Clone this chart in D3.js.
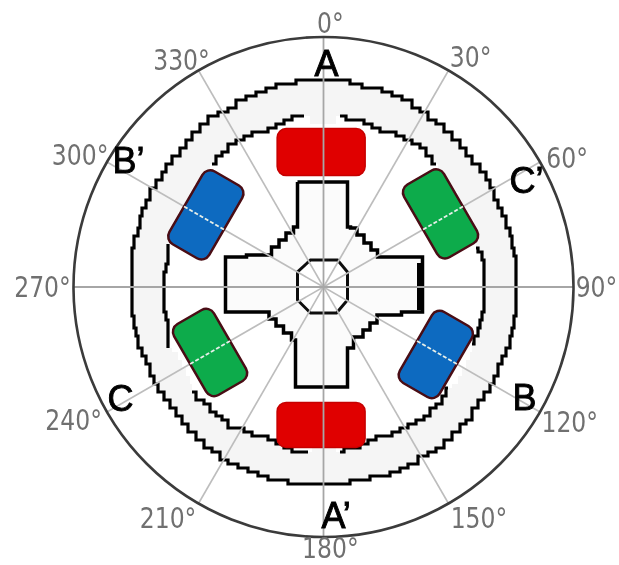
<!DOCTYPE html>
<html>
<head>
<meta charset="utf-8">
<script src="https://cdnjs.cloudflare.com/ajax/libs/d3/7.8.5/d3.min.js"></script>
<style>
  html, body { margin: 0; padding: 0; background: #fff; }
  svg { display: block; }
</style>
</head>
<body>
<div id="chart"></div>
<script>
// polar grid
const gridAngles = [0, 30, 60, 90, 120, 150, 180, 210, 240, 270, 300, 330];
const gridLabels = ['0°', '30°', '60°', '90°', '120°', '150°', '180°', '210°', '240°', '270°', '300°', '330°'];
const labelAngles = [1.5, 32.6, 62, 90, 118.8, 146, 178.5, 214, 242, 270, 298.5, 328];
const labelRadii = [264, 273, 276, 273, 281, 278, 261.5, 278, 283, 281, 277, 268];

// stator outlines, radius read every 3 degrees (null = hidden behind a pole)
const ringAngles = d3.range(0, 360, 3);
const statorOuter = [207, 207, 207, 206, 205, 205, 204, 204, 203, 202, 201, 200, 200, 199, 198,
  198, 197, 197, 196, 196, 196, 195, 195, 194, 194, 194, 194, 194, 194, 194,
  194, 194, 194, 194, 194, 194, 194, 194, 194, 194, 194, 195, 195, 195, 196,
  196, 196, 196, 197, 197, 197, 197, 197, 197, 197, 197, 197, 197, 197, 197,
  197, 197, 197, 198, 198, 198, 199, 199, 199, 199, 199, 198, 198, 197, 197,
  196, 195, 195, 194, 194, 193, 193, 193, 193, 193, 193, 193, 193, 193, 193,
  193, 193, 193, 194, 194, 194, 195, 195, 195, 196, 196, 197, 197, 198, 198,
  199, 200, 200, 201, 202, 202, 203, 204, 204, 205, 205, 206, 206, 207, 207];
const statorInner = [null, null, 171, 170, 169, 169, 168, 168, 168, 170, 171, 171, 170, 169, 168,
  null, null, null, null, null, null, null, null, null, null, 158, 160, 161, 160, 160,
  160, 160, 160, 161, 161, 160, 161, 161, null, null, null, null, null, 162, 163,
  165, 165, 165, 164, 164, 163, 162, 161, 160, 160, 162, 164, 165, 165, null,
  null, null, 165, 166, 164, 161, 161, 161, 162, 163, 165, 166, 166, 166, 166,
  166, 167, 167, null, null, null, null, null, 165, 163, 161, 160, 160, 160, 160,
  160, 160, 160, 159, 158, 159, null, null, null, null, null, null, null, null, null,
  null, 165, 166, 168, 169, 170, 170, 169, 168, 168, 168, 170, 172, 173, null];

// rotor and shaft corners, px from centre, y up
const rotorX = [-26, 24, 24, 30, 37, 44, 51, 57, 99, 99, 57, 50, 43, 36, 24, 24, -28, -28, -36, -44, -51, -58, -98, -98, -56, -48, -41, -34, -26, -26];
const rotorY = [105, 105, 60, 59, 52, 44, 37, 30, 30, -25, -28, -36, -43, -50, -61, -100, -100, -53, -46, -39, -32, -25, -25, 30, 32, 40, 47, 54, 60, 105];
const rotorEndX = [97, 97];
const rotorEndY = [24, -23];
const shaftX = [-13, 14, 24, 24, 13, -13, -26, -26];
const shaftY = [27, 27, 15, -13, -26, -26, -13, 15];

// poles
const poleAngles = [359, 58, 121, 181, 240, 301.5];
const poleRadii = [135, 138, 131, 138, 131, 138];
const poleWidths = [88, 84, 82, 88, 82, 84];
const poleDepths = [47, 46, 46, 45, 46, 46];
const poleSpokes = [0, 60, 120, 180, 240, 300];
const poleColors = ['#e00000', '#0bab4c', '#0f6ac0', '#e00000', '#0bab4c', '#0f6ac0'];
const poleEdges = ['#c60000', '#4a0c12', '#4a0c12', '#c60000', '#4a0c12', '#4a0c12'];

// winding labels, left end and baseline in px from centre, y up
const windingLabels = ['A', 'A’', 'B', 'B’', 'C', 'C’'];
const windingX = [-9, -2, 189, -211, -216, 186];
const windingY = [211, -241, -123, 114, -124, 94];

const width = 619;
const height = 565;
const cx = 323.5;
const cy = 287;
const outerR = 250;
const cell = 4; // the stator was a low res bitmap, snap its outline to that grid

const x = d3.scaleLinear().domain([-outerR, outerR]).range([cx - outerR, cx + outerR]);
const y = d3.scaleLinear().domain([-outerR, outerR]).range([cy + outerR, cy - outerR]);
const r = d3.scaleLinear().domain([0, outerR]).range([0, outerR]);
const theta = d3.scaleLinear().domain([0, 360]).range([0, 2 * Math.PI]);

const px = (a, v) => cx + r(v) * Math.sin(theta(a));
const py = (a, v) => cy - r(v) * Math.cos(theta(a));
const snap = v => Math.round(v / cell) * cell;

const svg = d3.select('#chart').append('svg')
  .attr('width', width)
  .attr('height', height);

// the source is a scanned looking picture, a small blur softens the edges
svg.append('defs').append('filter')
  .attr('id', 'soft')
  .append('feGaussianBlur')
  .attr('stdDeviation', 0.6);

const plot = svg.append('g').attr('filter', 'url(#soft)');

const ringLine = d3.line()
  .defined(d => d.v !== null)
  .x(d => snap(px(d.a, d.v)))
  .y(d => snap(py(d.a, d.v)))
  .curve(d3.curveStep);

const outerPts = ringAngles.map((a, i) => ({a: a, v: statorOuter[i]}));
const innerPts = ringAngles.map((a, i) => ({a: a, v: statorInner[i]}));
const closeRing = pts => pts.concat([pts[0]]);

// stator band
plot.append('path')
  .attr('d', ringLine(closeRing(outerPts)))
  .attr('fill', '#f5f5f5');
plot.append('path')
  .attr('d', ringLine(closeRing(innerPts.map(d => ({a: d.a, v: d.v === null ? 162 : d.v})))))
  .attr('fill', '#fff');
plot.append('path')
  .attr('d', ringLine(closeRing(outerPts)))
  .attr('fill', 'none')
  .attr('stroke', '#000')
  .attr('stroke-width', 3.2);
plot.append('path')
  .attr('d', ringLine(innerPts))
  .attr('fill', 'none')
  .attr('stroke', '#000')
  .attr('stroke-width', 3.2);

// rotor
const cornerLine = d3.line().x(d => x(d[0])).y(d => y(d[1]));

plot.append('path')
  .attr('d', cornerLine.curve(d3.curveStep)(d3.zip(rotorX, rotorY)))
  .attr('fill', '#fbfbfb')
  .attr('stroke', '#000')
  .attr('stroke-width', 3.5);

plot.append('path')
  .attr('d', cornerLine.curve(d3.curveLinear)(d3.zip(rotorEndX, rotorEndY)))
  .attr('fill', 'none')
  .attr('stroke', '#000')
  .attr('stroke-width', 7);

plot.append('path')
  .attr('d', cornerLine(d3.zip(shaftX, shaftY)) + 'Z')
  .attr('fill', '#fff')
  .attr('stroke', '#111')
  .attr('stroke-width', 3);

// spokes
plot.selectAll('.spoke')
  .data(gridAngles.filter(a => a % 90 !== 0))
  .enter().append('line')
  .attr('class', 'spoke')
  .attr('x1', px(0, 0))
  .attr('y1', py(0, 0))
  .attr('x2', d => px(d, outerR))
  .attr('y2', d => py(d, outerR))
  .attr('stroke', '#bdbdbd')
  .attr('stroke-width', 1.6);

// poles
const poles = plot.selectAll('.pole')
  .data(poleAngles)
  .enter().append('g')
  .attr('class', 'pole')
  .attr('transform', (d, i) => `translate(${px(d, poleRadii[i])},${py(d, poleRadii[i])}) rotate(${poleSpokes[i]})`);

poles.append('rect')
  .attr('x', (d, i) => -r(poleWidths[i]) / 2)
  .attr('y', (d, i) => -r(poleDepths[i]) / 2)
  .attr('width', (d, i) => r(poleWidths[i]))
  .attr('height', (d, i) => r(poleDepths[i]))
  .attr('rx', 9)
  .attr('fill', (d, i) => poleColors[i])
  .attr('stroke', (d, i) => poleEdges[i])
  .attr('stroke-width', (d, i) => poleSpokes[i] % 180 === 0 ? 1.5 : 2.5);

// dotted white spoke over the side poles, it stays on the grid spoke
plot.selectAll('.poleSpoke')
  .data(poleSpokes.filter(a => a % 180 !== 0))
  .enter().append('line')
  .attr('class', 'poleSpoke')
  .attr('x1', d => px(d, poleRadii[poleSpokes.indexOf(d)] - 23))
  .attr('y1', d => py(d, poleRadii[poleSpokes.indexOf(d)] - 23))
  .attr('x2', d => px(d, poleRadii[poleSpokes.indexOf(d)] + 23))
  .attr('y2', d => py(d, poleRadii[poleSpokes.indexOf(d)] + 23))
  .attr('stroke', '#e6efe8')
  .attr('stroke-width', 2)
  .attr('stroke-dasharray', '4 2');

// main spokes
plot.selectAll('.mainSpoke')
  .data(gridAngles.filter(a => a % 90 === 0))
  .enter().append('line')
  .attr('class', 'mainSpoke')
  .attr('x1', px(0, 0))
  .attr('y1', py(0, 0))
  .attr('x2', d => px(d, outerR))
  .attr('y2', d => py(d, outerR))
  .attr('stroke', '#a6a6a6')
  .attr('stroke-width', 1.8);

// outer circle
plot.append('circle')
  .attr('cx', x(0))
  .attr('cy', y(0))
  .attr('r', r(outerR))
  .attr('fill', 'none')
  .attr('stroke', '#3a3a3a')
  .attr('stroke-width', 2.6);

// angle labels, squeezed sideways because the source font is narrower than DejaVu
plot.selectAll('.angleLabel')
  .data(gridLabels)
  .enter().append('text')
  .attr('class', 'angleLabel')
  .attr('transform', (d, i) => `translate(${px(labelAngles[i], labelRadii[i])},${py(labelAngles[i], labelRadii[i])}) scale(0.84,1)`)
  .attr('dy', '0.36em')
  .attr('text-anchor', 'middle')
  .attr('font-family', '"DejaVu Sans", sans-serif')
  .attr('font-size', 28)
  .attr('fill', '#6f6f6f')
  .text(d => d);

// winding labels
plot.selectAll('.winding')
  .data(windingLabels)
  .enter().append('text')
  .attr('class', 'winding')
  .attr('x', (d, i) => x(windingX[i]))
  .attr('y', (d, i) => y(windingY[i]))
  .attr('font-family', '"Liberation Sans", Arial, sans-serif')
  .attr('font-size', 36)
  .attr('fill', '#000')
  .attr('stroke', '#000')
  .attr('stroke-width', 0.9)
  .text(d => d);
</script>
</body>
</html>
